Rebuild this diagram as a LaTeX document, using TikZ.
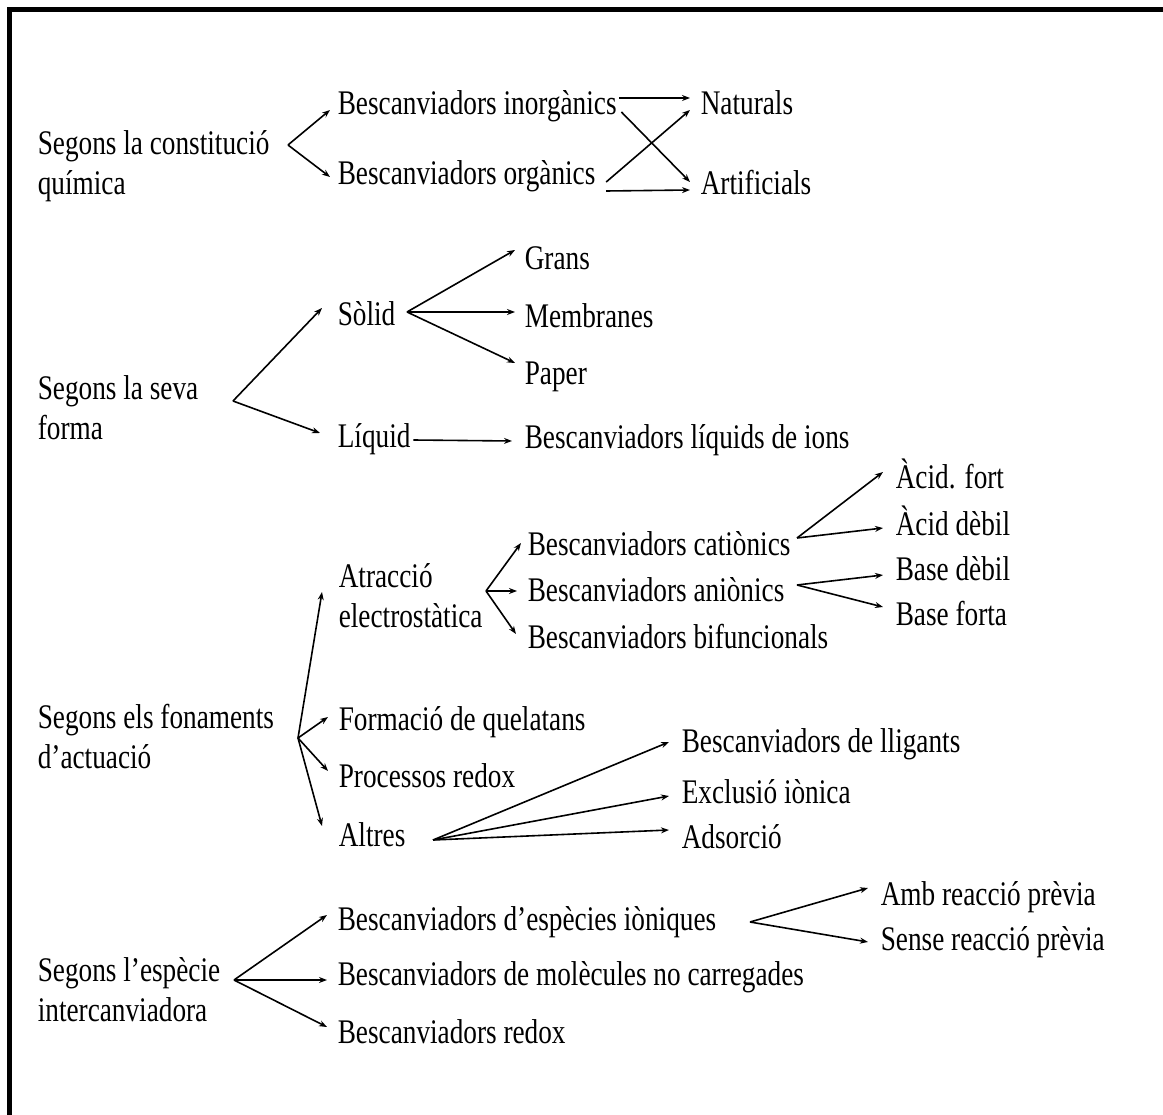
\documentclass[tikz,border=0pt]{standalone}
\usepackage{fontspec}
\setmainfont[FakeStretch=0.79]{Liberation Serif}
\usepackage{tikz}
\usetikzlibrary{arrows.meta}

\begin{document}
\begin{tikzpicture}[->,>={Stealth[length=8pt,width=6pt]},line width=1.6pt,x=1pt,y=-1pt,
		every node/.style={anchor=west,inner sep=0pt,font=\fontsize{34.5}{40}\selectfont}]
		\tikzstyle{item}=[text height=24pt,text depth=8pt]
		\tikzstyle{head}=[align=left]
		
		\useasboundingbox (0,0) rectangle (1163,1115);
		\draw[-,line width=5pt] (9.5,1120) -- (9.5,9.5) -- (1170,9.5);
		
		% constitucio quimica
		\node[head]    (constitucio) at (37,166)  {Segons la constitució\\química};
		\coordinate    (c1) at (288,145);
		\node[item]    (inorganics)  at (337,107) {Bescanviadors inorgànics};
		\node[item]    (organics)    at (337,177) {Bescanviadors orgànics};
		\node[item]    (naturals)    at (700,107) {Naturals};
		\node[item]    (artificials) at (700,187) {Artificials};
		\draw (c1) -- ([xshift=-7pt,yshift=-3pt]inorganics.west);
		\draw (c1) -- ([xshift=-7pt]organics.west);
		\draw ([xshift=2pt,yshift=9pt]inorganics.east) -- ([xshift=-10pt,yshift=9pt]naturals.west);
		\draw ([xshift=4pt,yshift=-5pt]inorganics.east) -- ([xshift=-10pt,yshift=5pt]artificials.west);
		\draw ([xshift=10pt,yshift=-5pt]organics.east) -- ([xshift=-10pt,yshift=-3pt]naturals.west);
		\draw ([xshift=10pt,yshift=-14pt]organics.east) -- ([xshift=-10pt,yshift=-3pt]artificials.west);
		
		% forma
		\node[head]    (forma)   at (37,408)  {Segons la seva\\forma};
		\coordinate    (c2) at (233,401);
		\node[item]    (solid)   at (337,318) {Sòlid};
		\node[item]    (liquid)  at (337,440) {Líquid};
		\draw (c2) -- ([xshift=-15pt,yshift=10pt]solid.west);
		\draw (c2) -- ([xshift=-17pt,yshift=7pt]liquid.west);
		\coordinate    (c3) at (407,312);
		\node[item]    (grans)     at (524,262) {Grans};
		\node[item]    (membranes) at (524,320) {Membranes};
		\node[item]    (paper)     at (524,377) {Paper};
		\node[item]    (liqions)   at (524,441) {Bescanviadors líquids de ions};
		\draw (c3) -- ([xshift=-9pt,yshift=12pt]grans.west);
		\draw (c3) -- ([xshift=-9pt,yshift=8pt]membranes.west);
		\draw (c3) -- ([xshift=-9pt,yshift=14pt]paper.west);
		\draw ([xshift=2pt]liquid.east) -- ([xshift=-12pt]liqions.west);
		
		% fonaments
		\node[head]    (fonaments) at (37,737)  {Segons els fonaments\\d’actuació};
		\coordinate    (c4) at (298,738);
		\node[head]    (atraccio)  at (338,596) {Atracció\\electrostàtica};
		\node[item]    (formacio)  at (338,722) {Formació de quelatans};
		\node[item]    (processos) at (338,779) {Processos redox};
		\node[item]    (altres)    at (338,838) {Altres};
		\draw (c4) -- ([xshift=-16pt,yshift=4pt]atraccio.west);
		\draw (c4) -- ([xshift=-10pt,yshift=5pt]formacio.west);
		\draw (c4) -- ([xshift=-10pt,yshift=8pt]processos.west);
		\draw (c4) -- ([xshift=-16pt,yshift=12pt]altres.west);
		
		\coordinate    (c5) at (486,591);
		\node[item]    (cationics)    at (527,547) {Bescanviadors catiònics};
		\node[item]    (anionics)     at (527,593) {Bescanviadors aniònics};
		\node[item]    (bifuncionals) at (527,640) {Bescanviadors bifuncionals};
		\draw (c5) -- ([xshift=-6pt,yshift=4pt]cationics.west);
		\draw (c5) -- ([xshift=-10pt,yshift=2pt]anionics.west);
		\draw (c5) -- ([xshift=-11pt,yshift=6pt]bifuncionals.west);
		
		\coordinate    (c6) at (797,538);
		\coordinate    (c7) at (797,585);
		\node[item]    (acidfort)  at (895,480) {Àcid. fort};
		\node[item]    (aciddebil) at (895,527) {Àcid dèbil};
		\node[item]    (basedebil) at (895,572) {Base dèbil};
		\node[item]    (baseforta) at (895,617) {Base forta};
		\draw (c6) -- ([xshift=-12pt,yshift=8pt]acidfort.west);
		\draw (c6) -- ([xshift=-12pt,yshift=-1pt]aciddebil.west);
		\draw (c7) -- ([xshift=-12pt,yshift=-3pt]basedebil.west);
		\draw (c7) -- ([xshift=-12pt,yshift=10pt]baseforta.west);
		
		\coordinate    (c8) at (433,840);
		\node[item]    (lligants) at (681,744) {Bescanviadors de lligants};
		\node[item]    (exclusio) at (681,795) {Exclusió iònica};
		\node[item]    (adsorcio) at (681,840) {Adsorció};
		\draw (c8) -- ([xshift=-12pt,yshift=2pt]lligants.west);
		\draw (c8) -- ([xshift=-12pt,yshift=-1pt]exclusio.west);
		\draw (c8) -- ([xshift=-12pt,yshift=10pt]adsorcio.west);
		
		% especie intercanviadora
		\node[head]    (especie)   at (37,990)  {Segons l’espècie\\intercanviadora};
		\coordinate    (c9) at (234,980);
		\node[item]    (ioniques)  at (337,922) {Bescanviadors d’espècies iòniques};
		\node[item]    (molecules) at (337,977) {Bescanviadors de molècules no carregades};
		\node[item]    (bredox)    at (337,1035) {Bescanviadors redox};
		\draw (c9) -- ([xshift=-10pt,yshift=7pt]ioniques.west);
		\draw (c9) -- ([xshift=-10pt,yshift=-3pt]molecules.west);
		\draw (c9) -- ([xshift=-10pt,yshift=8pt]bredox.west);
		
		\coordinate    (c10) at (750,922);
		\node[item]    (amb)   at (880,897) {Amb reacció prèvia};
		\node[item]    (sense) at (880,942) {Sense reacció prèvia};
		\draw (c10) -- ([xshift=-12pt,yshift=9pt]amb.west);
		\draw (c10) -- ([xshift=-12pt]sense.west);
		
\end{tikzpicture}
\end{document}
